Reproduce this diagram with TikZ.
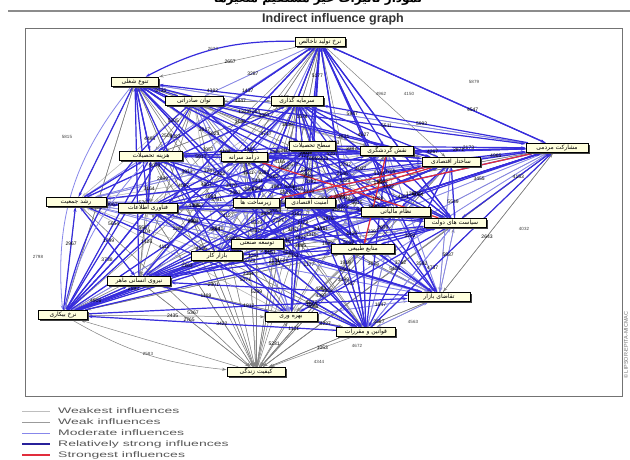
\documentclass[tikz,border=0pt]{standalone}
\usepackage{fontspec}
\setmainfont{Liberation Sans}
\newfontfamily\fa[Script=Arabic]{DejaVu Sans}
\newfontfamily\legendfont[FakeStretch=1.75]{Liberation Sans}
\TeXXeTstate=1
\usetikzlibrary{arrows.meta,shadows}
\pgfdeclarelayer{bg}
\pgfdeclarelayer{edges}
\pgfdeclarelayer{labels}
\pgfsetlayers{bg,edges,labels,main}
\newcommand\rtl[1]{\beginR#1\endR}
\definecolor{weakestc}{RGB}{190,190,190}
\definecolor{weakc}{RGB}{130,130,130}
\definecolor{modc}{RGB}{135,135,235}
\definecolor{strongc}{RGB}{55,45,220}
\definecolor{redc}{RGB}{225,45,60}
\definecolor{boxc}{RGB}{255,255,222}
\tikzset{
  var/.style={draw=black, line width=1pt, fill=boxc, inner sep=1pt,
    minimum height=9.5pt, font=\fa\fontsize{6}{7}\selectfont,
    general shadow={fill=black!75, shadow xshift=1.5pt, shadow yshift=-1.5pt}},
  inf/.style={-{Stealth[length=4.5pt,width=3pt]}},
  lvweakest/.style={inf, draw=weakestc, line width=0.4pt},
  lvweak/.style={inf, draw=weakc, line width=0.5pt},
  lvmod/.style={inf, draw=modc, line width=0.8pt},
  lvstrong/.style={inf, draw=strongc, line width=1.2pt},
  lvred/.style={inf, draw=redc, line width=1.2pt},
  lbl/.style={font=\fontsize{5}{5}\selectfont, text=black, inner sep=0.3pt},
  vlbl/.style={font=\fontsize{4.5}{5}\selectfont, text=black!75, inner sep=0.3pt},
  legtext/.style={anchor=west, inner sep=0pt, text=black!65, font=\legendfont\fontsize{8}{8}\selectfont},
}
% one pass over every ordered pair of variables; only the pairs of level #1 are drawn
\newcommand\edgepass[2]{%
  \foreach \i in {1,...,25}{%
    \foreach \j in {1,...,25}{%
      \ifnum\i=\j\else
        \pgfmathtruncatemacro\k{mod(7*\i+11*\j+3*\i*\j,16)}%
        \pgfmathtruncatemacro\lv{\k<3 ? 1 : (\k<6 ? 2 : (\k<10 ? 3 : (\k<15 ? 4 : 0)))}%
        \pgfmathtruncatemacro\lv{(((\i==1)||(\i==2)||(\i==22)||(\j==5)) && (\lv==3)) ? 4 : \lv}%
        \pgfmathtruncatemacro\lv{(((\i==25)||(\j==25)) && (\lv>2)) ? 2 : \lv}%
        \ifnum\lv=#1 \draw[#2] (n\i) -- (n\j);\fi
      \fi
    }%
  }%
}
\begin{document}
\begin{tikzpicture}[x=1pt,y=-1pt]
\useasboundingbox (0,0) rectangle (630,459);
\begin{pgfonlayer}{bg}
\fill[white] (0,0) rectangle (630,459);
\end{pgfonlayer}

% heading
\node[font=\fa\bfseries\fontsize{12}{12}\selectfont, anchor=base] (head) at (318,2) {\rtl{نمودار تاثیرات غیر مستقیم متغیرها}};
\draw[black!45, line width=1.2pt] (8,11) -- (630,11);
\node[font=\bfseries\fontsize{12.5}{13}\selectfont, text=black!80] (title) at (333,19.5) {Indirect influence graph};
\draw[black!55, line width=0.9pt] (25,28) rectangle (622,396);
\node[rotate=90, font=\fontsize{5.5}{6}\selectfont, text=black!55] (mark) at (626,345) {\copyright{} LIPSOR-EPITA-MICMAC};

% variables
\node[var, minimum width=50pt] (n1) at (320,42) {\rtl{نرخ تولید ناخالص}};
\node[var, minimum width=47pt] (n2) at (135,82) {\rtl{تنوع شغلی}};
\node[var, minimum width=58pt] (n3) at (194,101) {\rtl{توان صادراتی}};
\node[var, minimum width=52pt] (n4) at (297,101) {\rtl{سرمایه گذاری}};
\node[var, minimum width=62pt] (n5) at (557,148) {\rtl{مشارکت مردمی}};
\node[var, minimum width=46pt] (n6) at (312,146) {\rtl{سطح تحصیلات}};
\node[var, minimum width=53pt] (n7) at (387,151) {\rtl{نقش گردشگری}};
\node[var, minimum width=63pt] (n8) at (151,156) {\rtl{هزینه تحصیلات}};
\node[var, minimum width=46pt] (n9) at (244,157) {\rtl{درآمد سرانه}};
\node[var, minimum width=58pt] (n10) at (451,162) {\rtl{ساختار اقتصادی}};
\node[var, minimum width=60pt] (n11) at (76,202) {\rtl{رشد جمعیت}};
\node[var, minimum width=59pt] (n12) at (148,208) {\rtl{فناوری اطلاعات}};
\node[var, minimum width=46pt] (n13) at (256,203) {\rtl{زیرساخت ها}};
\node[var, minimum width=50pt] (n14) at (310,203) {\rtl{امنیت اقتصادی}};
\node[var, minimum width=69pt] (n15) at (396,212) {\rtl{نظام مالیاتی}};
\node[var, minimum width=62pt] (n16) at (455,223) {\rtl{سیاست های دولت}};
\node[var, minimum width=52pt] (n17) at (257,244) {\rtl{توسعه صنعتی}};
\node[var, minimum width=63pt] (n18) at (363,249) {\rtl{منابع طبیعی}};
\node[var, minimum width=51pt] (n19) at (217,256) {\rtl{بازار کار}};
\node[var, minimum width=63pt] (n20) at (139,281) {\rtl{نیروی انسانی ماهر}};
\node[var, minimum width=62pt] (n21) at (439,297) {\rtl{تقاضای بازار}};
\node[var, minimum width=49pt] (n22) at (63,315) {\rtl{نرخ بیکاری}};
\node[var, minimum width=52pt] (n23) at (291,317) {\rtl{بهره وری}};
\node[var, minimum width=59pt] (n24) at (366,332) {\rtl{قوانین و مقررات}};
\node[var, minimum width=58pt] (n25) at (256,372) {\rtl{کیفیت زندگی}};

% influences, weakest first so the strongest lie on top
\begin{pgfonlayer}{edges}
\edgepass{1}{lvweakest}
\edgepass{2}{lvweak}
\edgepass{3}{lvmod}
\edgepass{4}{lvstrong}
\draw[lvstrong] (n1) to[bend right=14] (n2);
\draw[lvmod] (n2) to[bend right=22] (n22);
\draw[lvstrong] (n3) to[bend right=18] (n22);
\draw[lvmod] (n8) to[bend right=14] (n22);
\draw[lvweak] (n22) to[bend right=12] (n25);
\draw[lvred] (n10) -- (n13);
\draw[lvred] (n10) -- (n14);
\draw[lvred] (n7) -- (n18);
\draw[lvred] (n16) -- (n9);
\draw[lvred] (n5) -- (n14);
\end{pgfonlayer}

% influence values
\begin{pgfonlayer}{labels}
\foreach \i in {1,...,24}{%
  \pgfmathtruncatemacro\ii{\i+1}%
  \foreach \j in {\ii,...,25}{%
    \pgfmathtruncatemacro\show{(mod(\i+2*\j,3)==0) ? 0 : 1}%
    \ifnum\show=1
      \pgfmathtruncatemacro\num{1000+mod(mod(397*\i,5000)+mod(613*\j,5000)+mod(17*\i*\j,5000),5000)}%
      \pgfmathsetmacro\ps{0.3+0.06*mod(\i*\j+\i,7)}%
      \path (n\i) -- (n\j) node[lbl, pos=\ps] {\num};
    \fi
  }%
}
\node[vlbl] (v1) at (213,49) {2623};
\node[vlbl] (v2) at (474,82) {5879};
\node[vlbl] (v3) at (381,94) {4962};
\node[vlbl] (v4) at (409,94) {4150};
\node[vlbl] (v5) at (67,137) {5815};
\node[vlbl] (v6) at (38,257) {2798};
\node[vlbl] (v7) at (524,229) {4032};
\node[vlbl] (v8) at (148,354) {2583};
\node[vlbl] (v9) at (319,362) {4344};
\node[vlbl] (v10) at (357,346) {4672};
\node[vlbl] (v11) at (413,322) {4563};
\end{pgfonlayer}

% legend
\draw[weakestc, line width=0.6pt] (22,411) -- (50,411);
\node[legtext] (l1) at (58,411) {Weakest influences};
\draw[weakc!80, line width=0.8pt] (22,422) -- (50,422);
\node[legtext] (l2) at (58,422) {Weak influences};
\draw[modc, line width=0.9pt] (22,433) -- (50,433);
\node[legtext] (l3) at (58,433) {Moderate influences};
\draw[strongc!70!black, line width=1.1pt] (22,444) -- (50,444);
\node[legtext] (l4) at (58,444) {Relatively strong influences};
\draw[redc, line width=1.1pt] (22,455) -- (50,455);
\node[legtext] (l5) at (58,455) {Strongest influences};
\end{tikzpicture}
\end{document}
